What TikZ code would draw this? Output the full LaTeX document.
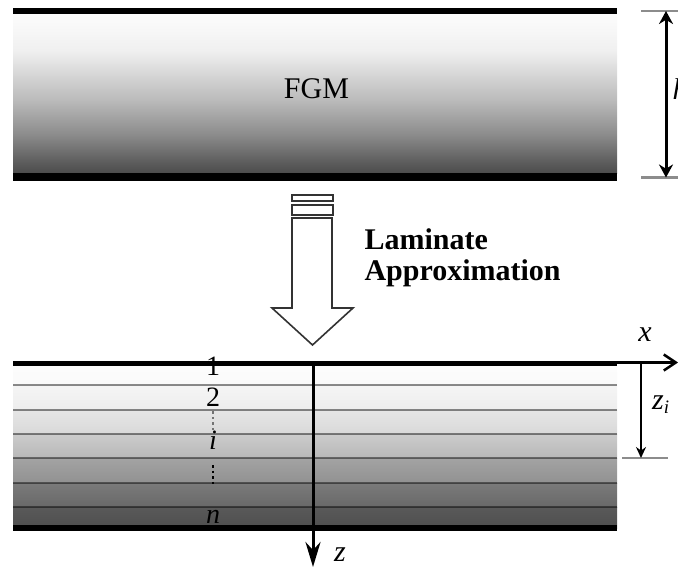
\documentclass[tikz,border=0pt]{standalone}
\usepackage{fontspec}
\setmainfont{Liberation Serif}
\usetikzlibrary{arrows.meta}

% graded fill of the continuous FGM plate (dark at the bottom, light at the top)
\pgfdeclareverticalshading{fgmgrad}{100bp}{%
  rgb(0bp)=(.29,.29,.29); rgb(25bp)=(.29,.29,.29);
  rgb(29bp)=(.37,.37,.37); rgb(37.5bp)=(.55,.55,.55);
  rgb(48bp)=(.73,.73,.73); rgb(63.5bp)=(.94,.94,.94);
  rgb(75bp)=(.99,.99,.99); rgb(100bp)=(.99,.99,.99)}

\tikzset{
  bigtext/.style={font=\fontsize{30}{30}\selectfont},
  idxtext/.style={font=\fontsize{28}{28}\selectfont, inner sep=0pt},
  symtext/.style={font=\itshape\fontsize{30}{30}\selectfont, inner sep=0pt},
  faceline/.style={line width=#1, draw=black},
  layerline/.style={line width=2.6, draw=black, draw opacity=0.45},
  extline/.style={line width=2.4, draw=black!45},
  dimarrow/.style={line width=3, draw=black},
}

\begin{document}
\begin{tikzpicture}[x=1pt,y=-1pt]
\useasboundingbox (0,0) rectangle (678,567);

% ---------------- continuous FGM plate ----------------
\fill[shading=fgmgrad] (13,14) rectangle (617,174);
\draw[faceline=6] (13,11) -- (617,11);
\draw[faceline=8] (13,177.5) -- (617,177.5);
\node[bigtext, anchor=base] (fgm) at (316.5,99) {FGM};

% thickness h
\coordinate (htop) at (666,11);
\coordinate (hbot) at (666,177.5);
\draw[extline] (641,11) -- (678,11);
\draw[extline] (641,177.5) -- (678,177.5);
\draw[dimarrow, {Stealth[length=13,width=14]}-{Stealth[length=13,width=14]}] (htop) -- (hbot);
\node[symtext, anchor=base west] (hlab) at (672.5,100) {h};

% ---------------- hollow arrow: laminate approximation ----------------
\draw[line width=1.6, draw=black!80, fill=white] (292,195) rectangle (333,201);
\draw[line width=1.6, draw=black!80, fill=white] (292,205) rectangle (333,215);
\draw[line width=1.6, draw=black!80, fill=white, line join=miter]
  (292,218) -- (332,218) -- (332,308) -- (353,308) -- (312.5,345)
  -- (272,308) -- (292,308) -- cycle;
\node[font=\bfseries\fontsize{30}{30}\selectfont, anchor=base west] (lam) at (361,250) {Laminate};
\node[font=\bfseries\fontsize{30}{30}\selectfont, anchor=base west] (app) at (361,280) {Approximation};

% ---------------- laminated plate ----------------
\shade[top color=white!99!black, bottom color=white!98!black] (13,363) rectangle (617,385);
\shade[top color=white!96!black, bottom color=white!93!black] (13,385) rectangle (617,410);
\shade[top color=white!90!black, bottom color=white!85!black] (13,410) rectangle (617,434);
\shade[top color=white!80!black, bottom color=white!72!black] (13,434) rectangle (617,458);
\shade[top color=white!64!black, bottom color=white!57!black] (13,458) rectangle (617,483);
\shade[top color=white!48!black, bottom color=white!41!black] (13,483) rectangle (617,507);
\shade[top color=white!35!black, bottom color=white!31!black] (13,507) rectangle (617,528);
\foreach \yy in {385,410,434,458,483,507}
  \draw[layerline] (13,\yy) -- (617,\yy);

% layer indices
\node[idxtext, anchor=base] (l1) at (213,375) {1};
\node[idxtext, anchor=base] (l2) at (213,406) {2};
\node[idxtext, anchor=base, font=\itshape\fontsize{28}{28}\selectfont] (li) at (213,449) {i};
\node[idxtext, anchor=base, font=\itshape\fontsize{28}{28}\selectfont] (ln) at (213,523) {n};
\draw[line width=2.4, draw=black!55, dash pattern=on 2.4pt off 3.2pt] (l2.south) ++(0,5) -- (213,432);
\draw[line width=2.6, draw=black, dash pattern=on 2.6pt off 3pt] (213,465) -- (213,486);

\draw[faceline=5] (13,363) -- (617,363);
\draw[faceline=6] (13,528) -- (617,528);

% coordinate axes
\coordinate (orig) at (313,363);
\coordinate (xend) at (678,362.5);
\coordinate (zend) at (313,567);
\draw[line width=2.5, {}-{Straight Barb[length=12,width=16]}] (617,362.5) -- (xend);
\draw[line width=3, -{Stealth[length=25,width=15]}] (orig) -- (zend);
\node[symtext] (xlab) at (645,335) {x};
\node[symtext, anchor=base] (zlab) at (340,561) {z};

% distance z_i to layer i
\coordinate (zitop) at (641,363);
\coordinate (zibot) at (641,458);
\draw[extline] (622,458) -- (668,458);
\draw[line width=2.5, -{Stealth[length=11,width=10]}] (zitop) -- (zibot);
\node[symtext, anchor=base west] (zilab) at (652,409) {z\raisebox{-4pt}{\fontsize{19}{19}\selectfont i}};
\end{tikzpicture}
\end{document}
